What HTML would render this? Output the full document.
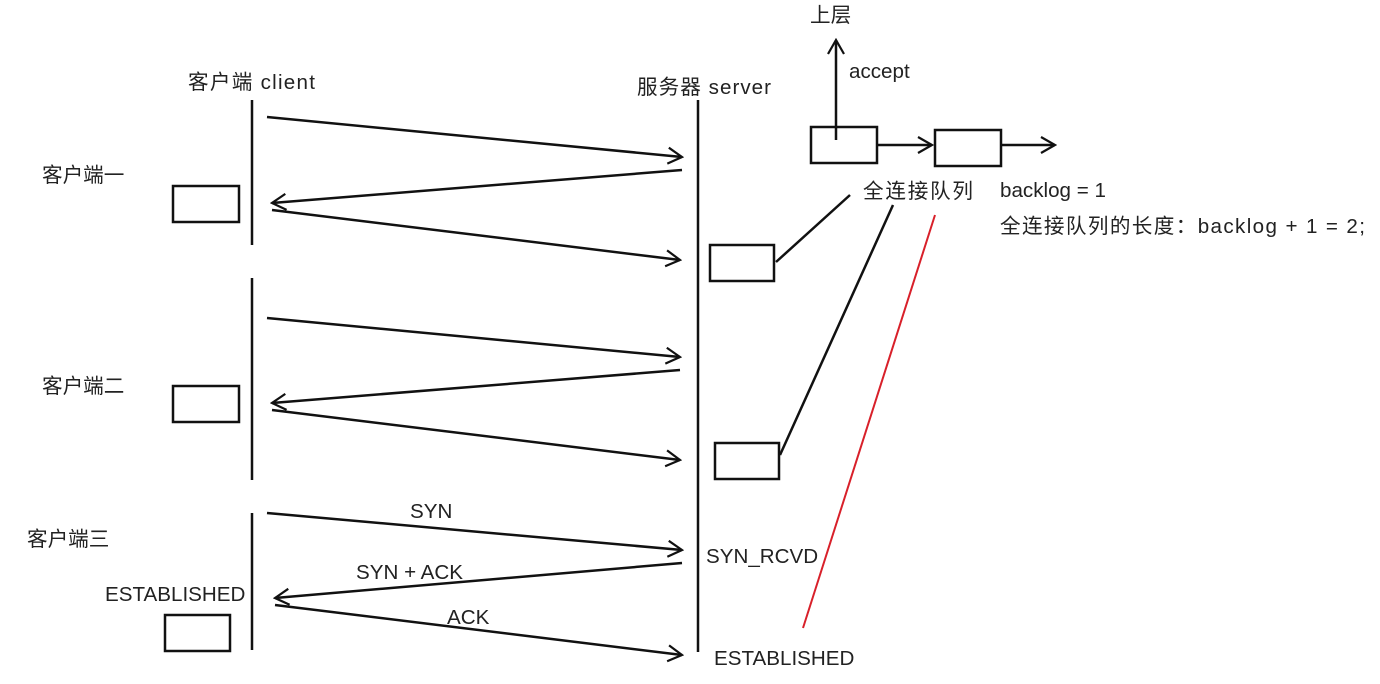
<!DOCTYPE html><html><head><style>body{margin:0;background:#fff}svg{display:block}
text{font-family:"Liberation Sans","Noto Sans CJK SC",sans-serif;font-size:20.6px;fill:#222}</style></head><body>
<svg width="1380" height="684" viewBox="0 0 1380 684">
<defs><marker id="a" viewBox="0 0 20 20" refX="18" refY="10" markerWidth="20" markerHeight="20" markerUnits="userSpaceOnUse" orient="auto"><path d="M4 2 L18 10 L4 18" fill="none" stroke="#111" stroke-width="2.2"/></marker></defs>
<g stroke="#111" stroke-width="2.5" fill="none">
<line x1="252" y1="100" x2="252" y2="245"/><line x1="252" y1="278" x2="252" y2="480"/><line x1="252" y1="513" x2="252" y2="650"/>
<line x1="698" y1="100" x2="698" y2="652"/>
<g marker-end="url(#a)">
<line x1="267" y1="117" x2="682" y2="157"/><line x1="682" y1="170" x2="272" y2="203"/><line x1="272" y1="210" x2="680" y2="260"/>
<line x1="267" y1="318" x2="680" y2="357"/><line x1="680" y1="370" x2="272" y2="403"/><line x1="272" y1="410" x2="680" y2="460"/>
<line x1="267" y1="513" x2="682" y2="550"/><line x1="682" y1="563" x2="275" y2="598"/><line x1="275" y1="605" x2="682" y2="655"/>
<line x1="836" y1="140" x2="836" y2="40"/><line x1="877" y1="145" x2="932" y2="145"/><line x1="1001" y1="145" x2="1055" y2="145"/>
</g>
<rect x="173" y="186" width="66" height="36"/><rect x="173" y="386" width="66" height="36"/><rect x="165" y="615" width="65" height="36"/>
<rect x="710" y="245" width="64" height="36"/><rect x="715" y="443" width="64" height="36"/>
<rect x="811" y="127" width="66" height="36"/><rect x="935" y="130" width="66" height="36"/>
<line x1="776" y1="262" x2="850" y2="195"/><line x1="780" y1="455" x2="893" y2="205"/>
</g>
<line x1="935" y1="215" x2="803" y2="628" stroke="#d8202a" stroke-width="2"/>
<text x="188" y="89" textLength="127">客户端 client</text><text x="637" y="94" textLength="134">服务器 server</text>
<text x="42" y="182">客户端一</text><text x="42" y="393">客户端二</text><text x="27" y="546">客户端三</text>
<text x="105" y="601">ESTABLISHED</text><text x="410" y="518">SYN</text><text x="356" y="579">SYN + ACK</text>
<text x="447" y="624">ACK</text><text x="706" y="563">SYN_RCVD</text><text x="714" y="665">ESTABLISHED</text>
<text x="810" y="22">上层</text><text x="849" y="78">accept</text><text x="863" y="198" textLength="110">全连接队列</text>
<text x="1000" y="197">backlog = 1</text><text x="1000" y="233" textLength="365">全连接队列的长度：backlog + 1 = 2;</text>
</svg></body></html>
